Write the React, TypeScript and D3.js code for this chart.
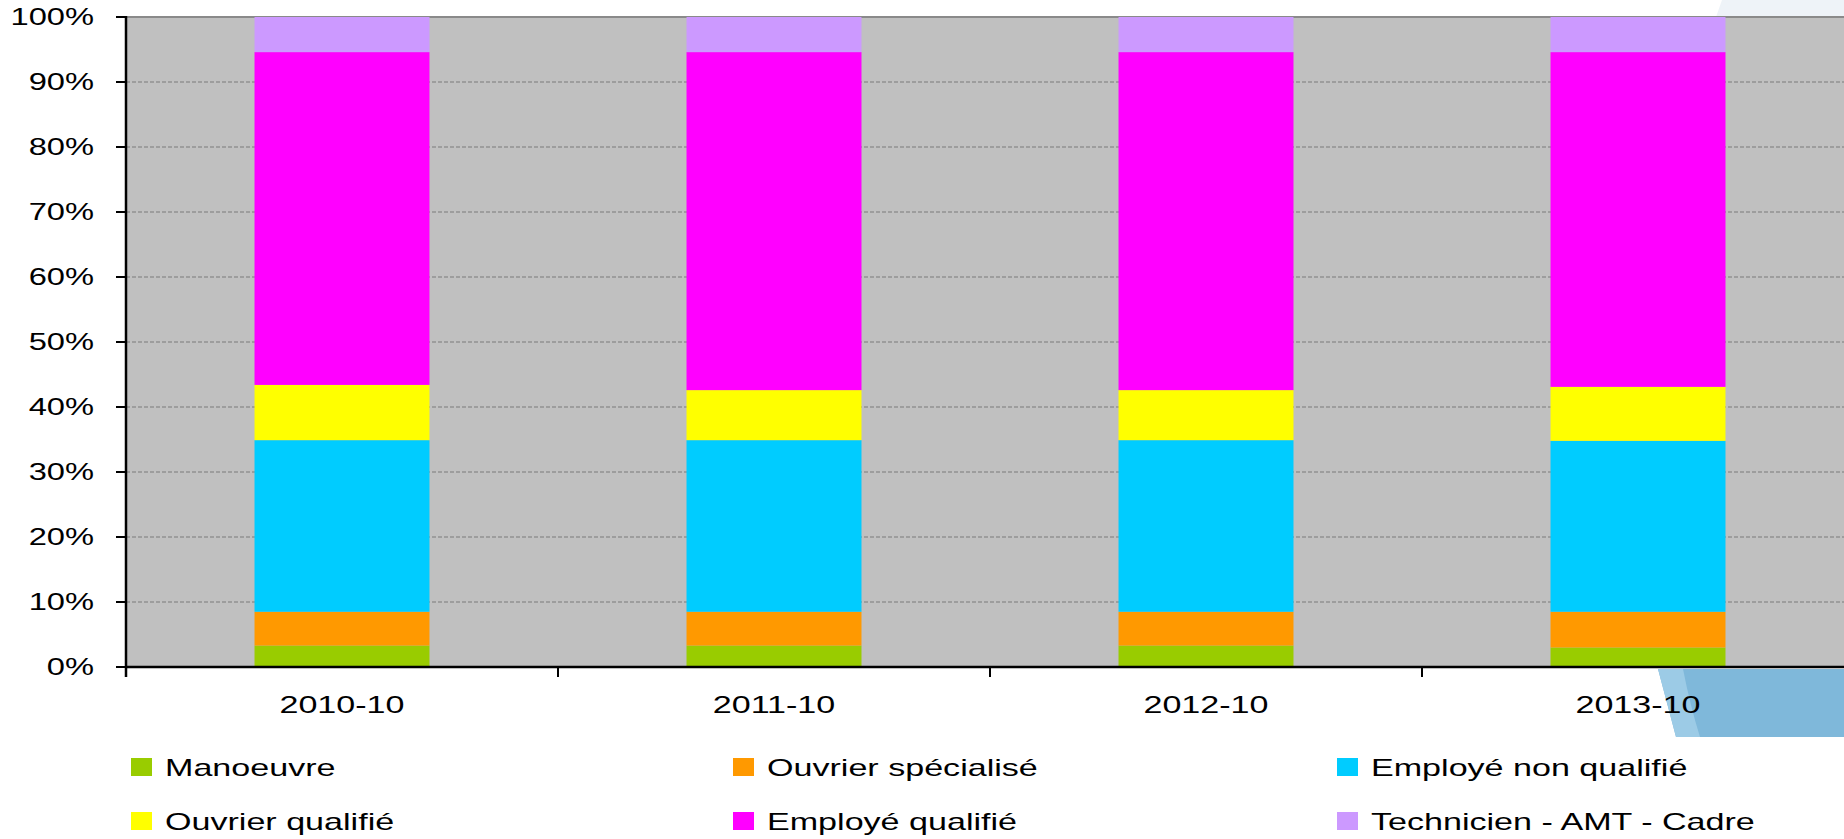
import React, { useEffect } from "react";
import * as d3 from "d3";

const categories = ["2010-10", "2011-10", "2012-10", "2013-10"];
const seriesNames = [
  "Manoeuvre",
  "Ouvrier spécialisé",
  "Employé non qualifié",
  "Ouvrier qualifié",
  "Employé qualifié",
  "Technicien - AMT - Cadre",
];
const manoeuvre = [3.3, 3.3, 3.3, 3.0];
const ouvrierSpecialise = [5.2, 5.2, 5.2, 5.5];
const employeNonQualifie = [26.4, 26.4, 26.4, 26.3];
const ouvrierQualifie = [8.5, 7.7, 7.7, 8.3];
const employeQualifie = [51.2, 52.0, 52.0, 51.5];
const technicien = [5.4, 5.4, 5.4, 5.4];
const seriesValues = [manoeuvre, ouvrierSpecialise, employeNonQualifie, ouvrierQualifie, employeQualifie, technicien];
const colors = ["#99cc00", "#ff9900", "#00ccff", "#ffff00", "#ff00ff", "#cc99ff"];
const yTicks = [0, 10, 20, 30, 40, 50, 60, 70, 80, 90, 100];

const W = 1844;
const H = 839;
const FONT = "'Liberation Sans', Arial, sans-serif";
const SX = 1.42;

export default function App() {
  useEffect(() => {
    document.body.style.margin = "0";
    document.body.style.overflow = "hidden";
  }, []);

  const left = 126;
  const top = 17;
  const bottom = 667;
  const step = 432;
  const x = d3
    .scaleBand<string>()
    .domain(categories)
    .range([left, left + step * categories.length])
    .paddingInner(0.595)
    .paddingOuter(0.2975);
  const y = d3.scaleLinear().domain([0, 100]).range([bottom, top]);

  const rows = categories.map((c, i) => {
    const r: any = { cat: c };
    seriesNames.forEach((s, k) => (r[s] = seriesValues[k][i]));
    return r;
  });
  const stacked = d3.stack<any>().keys(seriesNames)(rows);

  const legendCols = [131, 733, 1337];
  const legendRows = [767, 821];

  return (
    <svg width={W} height={H} style={{ display: "block" }} fontFamily={FONT}>
      <rect x={0} y={0} width={W} height={H} fill="#ffffff" />
      {/* faint decoration top right */}
      <path d={`M1722,0 L${W},0 L${W},17 L1716,17 Z`} fill="#eef3f8" />
      {/* plot background */}
      <rect x={left} y={top} width={W - left} height={bottom - top} fill="#c0c0c0" />
      {/* grid lines */}
      {yTicks.map((t) =>
        t === 0 ? null : (
          <line
            key={t}
            x1={left}
            x2={W}
            y1={y(t)}
            y2={y(t)}
            stroke={t === 100 ? "#8a8a8a" : "#7a7a7a"}
            strokeWidth={t === 100 ? 2 : 1}
            strokeDasharray={t === 100 ? undefined : "4,2"}
          />
        )
      )}
      {/* bars */}
      {stacked.map((layer, k) => (
        <g key={layer.key} fill={colors[k]}>
          {layer.map((d, i) => (
            <rect
              key={i}
              x={x(categories[i])!}
              width={x.bandwidth()}
              y={y(d[1])}
              height={y(d[0]) - y(d[1])}
            />
          ))}
        </g>
      ))}
      {/* bottom right decoration */}
      <path d={`M1658,669 L${W},669 L${W},737 L1676,737 Z`} fill="#7fb8da" />
      <path d={`M1658,669 L1683,669 Q1690,705 1700,737 L1676,737 Z`} fill="#9ccbe6" />
      {/* axes */}
      <line x1={left} x2={left} y1={top - 1} y2={bottom + 10} stroke="#000" strokeWidth={2.5} />
      <line x1={left} x2={W} y1={bottom} y2={bottom} stroke="#000" strokeWidth={2.5} />
      {yTicks.map((t) => (
        <line key={"yt" + t} x1={left - 10} x2={left} y1={y(t)} y2={y(t)} stroke="#000" strokeWidth={2} />
      ))}
      {d3.range(categories.length + 1).map((i) => (
        <line
          key={"xt" + i}
          x1={left + i * step}
          x2={left + i * step}
          y1={bottom}
          y2={bottom + 10}
          stroke="#000"
          strokeWidth={2}
        />
      ))}
      {/* y labels */}
      {yTicks.map((t) => (
        <text
          key={"yl" + t}
          transform={`translate(94,${y(t) + 8}) scale(${SX},1)`}
          textAnchor="end"
          fontSize={23}
          fill="#000"
        >
          {t + "%"}
        </text>
      ))}
      {/* x labels */}
      {categories.map((c) => (
        <text
          key={"xl" + c}
          transform={`translate(${x(c)! + x.bandwidth() / 2},713) scale(${SX},1)`}
          textAnchor="middle"
          fontSize={24}
          fill="#000"
        >
          {c}
        </text>
      ))}
      {/* legend */}
      {seriesNames.map((s, k) => {
        const cx = legendCols[k % 3];
        const cy = legendRows[Math.floor(k / 3)];
        return (
          <g key={"lg" + s}>
            <rect x={cx} y={cy - 9} width={21} height={18} fill={colors[k]} />
            <text
              transform={`translate(${cx + 34},${cy + 9}) scale(${SX},1)`}
              fontSize={24}
              fill="#000"
            >
              {s}
            </text>
          </g>
        );
      })}
    </svg>
  );
}
